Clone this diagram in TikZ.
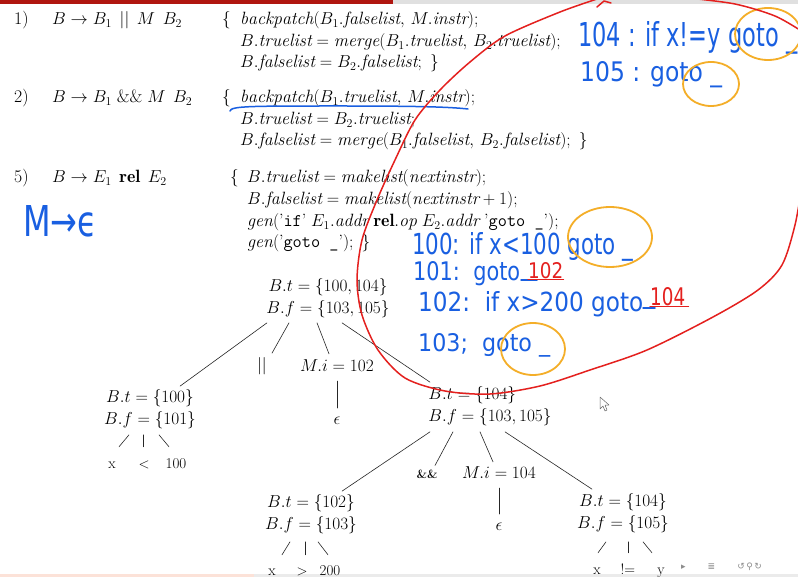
\documentclass[tikz,border=0pt]{standalone}
\usepackage{amsmath,amssymb}
\usepackage{fontspec}
\usepackage{tikz}
\newfontfamily\handfont{DejaVu Sans}
\newfontfamily\navfont{DejaVu Sans}
\definecolor{inkblue}{RGB}{25,95,225}
\definecolor{inkred}{RGB}{228,32,30}
\definecolor{inkorange}{RGB}{244,174,40}
\definecolor{barred}{RGB}{176,22,16}
\definecolor{barpink}{RGB}{252,226,216}
\newcommand{\attr}[1]{\mathit{#1}}
\newcommand{\scrawl}[3]{\resizebox{#1}{#2}{\handfont #3}}

\begin{document}
\begin{tikzpicture}[x=1pt, y=-1pt, line join=round, line cap=round,
  slide/.style={font=\fontsize{17.8}{20}\selectfont, inner sep=0pt, anchor=base west},
  tnode/.style={font=\fontsize{17}{22}\selectfont, inner sep=0pt, align=center},
  leaf/.style={font=\fontsize{15}{18}\selectfont, inner sep=0pt, anchor=base, text height=11pt, text depth=0pt},
  branch/.style={draw=black!85, line width=0.6pt},
  hand/.style={text=inkblue, inner sep=0pt, anchor=base west},
  redhand/.style={text=inkred, inner sep=0pt, anchor=base west},
  pen/.style={draw=inkblue, line width=1.5pt},
  redstroke/.style={draw=inkred, line width=1.5pt},
  ringmark/.style={draw=inkorange, line width=1.8pt}]
\useasboundingbox (0,0) rectangle (798,577);
\fill[white] (0,0) rectangle (798,577);
\fill[barred] (0,0) rectangle (393,4);
\fill[black!12] (393,0) rectangle (798,4);
\fill[barpink] (0,574) rectangle (254,577);
\fill[black!8] (254,574) rectangle (798,577);

\node[slide] (n1) at (14,25) {1)};
\node[slide] (p1) at (52,25) {$B \rightarrow B_1 \;\,||\;\, M\;\, B_2$};
\node[slide] (b1) at (222,25) {$\{$};
\node[slide] (a11) at (240,25) {$\attr{backpatch}(B_1.\attr{falselist},\, M.\attr{instr});$};
\node[slide] (a12) at (240,46.5) {$B.\attr{truelist} = \attr{merge}(B_1.\attr{truelist},\, B_2.\attr{truelist});$};
\node[slide] (a13) at (240,68) {$B.\attr{falselist} = B_2.\attr{falselist};\ \}$};

\node[slide] (n2) at (14,103) {2)};
\node[slide] (p2) at (52,103) {$B \rightarrow B_1 \;\&\&\; M\;\, B_2$};
\node[slide] (b2) at (222,103) {$\{$};
\node[slide] (a21) at (240,103) {$\attr{backpatch}(B_1.\attr{truelist},\, M.\attr{instr});$};
\node[slide] (a22) at (240,125) {$B.\attr{truelist} = B_2.\attr{truelist};$};
\node[slide] (a23) at (240,146) {$B.\attr{falselist} = \attr{merge}(B_1.\attr{falselist},\, B_2.\attr{falselist});\ \}$};

\node[slide] (n5) at (14,183) {5)};
\node[slide] (p5) at (52,183) {$B \rightarrow E_1 \;\,\mathbf{rel}\;\, E_2$};
\node[slide] (b5) at (230,183) {$\{$};
\node[slide] (a51) at (247,183) {$B.\attr{truelist} = \attr{makelist}(\attr{nextinstr});$};
\node[slide] (a52) at (247,205) {$B.\attr{falselist} = \attr{makelist}(\attr{nextinstr} + 1);$};
\node[slide] (a53) at (247,226.5) {$\attr{gen}(\text{'\texttt{if}'}\; E_1.\attr{addr}\;\mathbf{rel}.\attr{op}\; E_2.\attr{addr}\;\text{'\texttt{goto \_}'});$};
\node[slide] (a54) at (247,248) {$\attr{gen}(\text{'\texttt{goto \_}'});\ \}$};

\node[tnode] (root) at (328,298) {$B.t = \{100, 104\}$\\$B.f = \{103, 105\}$};
\node[tnode] (or1) at (262,366) {$||$};
\node[tnode] (mi1) at (337,366) {$M.i = 102$};
\node[tnode] (eps1) at (337,421) {$\epsilon$};
\node[tnode] (lb) at (150,409) {$B.t = \{100\}$\\$B.f = \{101\}$};
\node[tnode, align=left] (rb) at (490,406) {$B.t = \{104\}$\\$B.f = \{103, 105\}$};
\node[leaf] (lx) at (112,468) {x};
\node[leaf] (lop) at (144,468) {$<$};
\node[leaf] (lnum) at (176,468) {100};
\node[tnode, font=\fontsize{12}{14}\selectfont\bfseries] (and1) at (427,474) {\&\&};
\node[tnode] (mi2) at (499,473) {$M.i = 104$};
\node[tnode] (eps2) at (499,527) {$\epsilon$};
\node[tnode] (rlb) at (311,514) {$B.t = \{102\}$\\$B.f = \{103\}$};
\node[tnode] (rrb) at (623,513) {$B.t = \{104\}$\\$B.f = \{105\}$};
\node[leaf] (rx) at (272,575) {x};
\node[leaf] (rop) at (302,575) {$>$};
\node[leaf] (rnum) at (330,575) {200};
\node[leaf] (sx) at (597,574) {x};
\node[leaf] (sop) at (628,574) {!=};
\node[leaf] (sy) at (661,574) {y};

\draw[branch] ([xshift=-61pt,yshift=-5pt]root.south) -- ([xshift=30pt,yshift=3pt]lb.north);
\draw[branch] ([xshift=-39pt,yshift=-5pt]root.south) -- ([xshift=10pt,yshift=4pt]or1.north);
\draw[branch] ([xshift=-11pt,yshift=-5pt]root.south) -- ([xshift=-8pt,yshift=6pt]mi1.north);
\draw[branch] ([xshift=14pt,yshift=-5pt]root.south) -- ([xshift=-60pt,yshift=4pt]rb.north);
\draw[branch] ([yshift=-9pt]mi1.south) -- ([yshift=9pt]eps1.north);
\draw[branch] ([xshift=-21pt,yshift=-6pt]lb.south) -- ([xshift=7pt,yshift=10pt]lx.north);
\draw[branch] ([xshift=-7pt,yshift=-6pt]lb.south) -- ([xshift=-1pt,yshift=10pt]lop.north);
\draw[branch] ([xshift=9pt,yshift=-6pt]lb.south) -- ([xshift=-7pt,yshift=10pt]lnum.north);
\draw[branch] ([xshift=-60pt,yshift=-6pt]rb.south) -- ([xshift=31pt,yshift=3pt]rlb.north);
\draw[branch] ([xshift=-37pt,yshift=-6pt]rb.south) -- ([xshift=8pt,yshift=4pt]and1.north);
\draw[branch] ([xshift=-10pt,yshift=-6pt]rb.south) -- ([xshift=-6pt,yshift=5pt]mi2.north);
\draw[branch] ([xshift=15pt,yshift=-6pt]rb.south) -- ([xshift=-31pt,yshift=4pt]rrb.north);
\draw[branch] ([yshift=-9pt]mi2.south) -- ([yshift=9pt]eps2.north);
\draw[branch] ([xshift=-21pt,yshift=-8pt]rlb.south) -- ([xshift=10pt,yshift=9pt]rx.north);
\draw[branch] ([xshift=-6pt,yshift=-8pt]rlb.south) -- ([xshift=3pt,yshift=9pt]rop.north);
\draw[branch] ([xshift=7pt,yshift=-8pt]rlb.south) -- ([xshift=-2pt,yshift=9pt]rnum.north);
\draw[branch] ([xshift=-17pt,yshift=-9pt]rrb.south) -- ([xshift=1pt,yshift=10pt]sx.north);
\draw[branch] ([xshift=5pt,yshift=-9pt]rrb.south) -- ([yshift=10pt]sop.north);
\draw[branch] ([xshift=20pt,yshift=-9pt]rrb.south) -- ([xshift=-9pt,yshift=10pt]sy.north);

\node[text=black!45, font=\navfont\fontsize{9}{10}\selectfont, anchor=base west, inner sep=0pt] (nav) at (681,569) {▸\hspace{22pt}≣\hspace{22pt}↺\,⚲\,↻};
\draw[black!60, fill=white, line width=0.5pt] (600,397) -- (600,409) -- (603,406) -- (605,411) -- (607,410) -- (605,405) -- (609,405) -- cycle;

\node[hand] (hm) at (23,237) {\scrawl{74pt}{31pt}{M→ϵ}};
\node[hand] (h104) at (578,47) {\scrawl{219pt}{25pt}{104 : if x!=y goto \_}};
\node[hand] (h105) at (580,82) {\scrawl{142pt}{20pt}{105 : goto \_}};
\node[hand] (h100) at (412,255) {\scrawl{221pt}{22pt}{100: if x<100 goto \_}};
\node[hand] (h101) at (413,281) {\scrawl{107pt}{19pt}{101:\ \ goto}};
\node[redhand] (r102) at (528,279) {\scrawl{35pt}{16pt}{102}};
\node[hand] (h102) at (418,312) {\scrawl{225pt}{20pt}{102:\ \ if x>200 goto}};
\node[redhand] (r104) at (650,306) {\scrawl{35pt}{18pt}{104}};
\node[hand] (h103) at (418,351) {\scrawl{132pt}{18pt}{103;\ \ goto \_}};
\draw[pen] (521,280) -- (537,280);
\draw[redstroke] (r102.south west) -- (r102.south east);
\draw[pen] (643,308) -- (655,308);
\draw[redstroke] (r104.south west) -- ([xshift=3pt]r104.south east);
\draw[pen] (230,111) .. controls (231,106) and (250,106) .. (340,106) .. controls (420,106) and (450,107) .. (468,109);

\draw[ringmark] (768,34) ellipse (33pt and 26pt);
\draw[ringmark] (711,84) ellipse (28pt and 22pt);
\draw[ringmark] (610,237) ellipse (42pt and 30pt);
\draw[ringmark] (533,349) ellipse (32pt and 26pt);

\draw[redstroke] plot[smooth] coordinates {(600,-2) (560,12) (505,36) (470,62) (440,90) (415,120) (395,160) (377,200) (362,240) (357,280) (362,315) (378,350) (405,378) (445,391) (490,394) (540,386) (590,370) (647,350) (713,317) (758,290) (782,265) (795,225) (802,185)};
\draw[redstroke] (597,7) -- (604,1) -- (611,3);
\draw[redstroke] plot[smooth] coordinates {(688,-2) (735,4) (775,16) (803,32)};
\end{tikzpicture}
\end{document}
